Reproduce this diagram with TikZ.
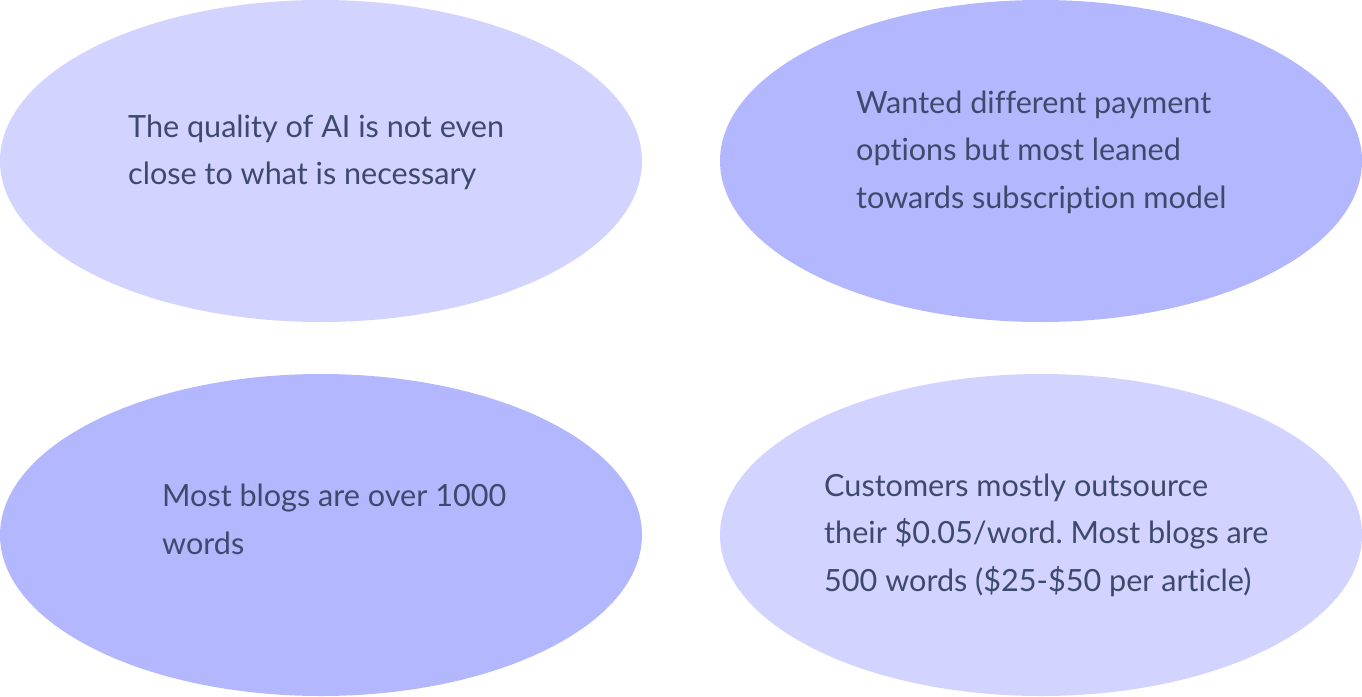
\documentclass[tikz,border=0pt]{standalone}
\usepackage{fontspec}
\setmainfont{Lato}[Ligatures=NoCommon]
\frenchspacing
\usetikzlibrary{shapes.geometric}
\definecolor{lightblob}{HTML}{D2D3FE}
\definecolor{darkblob}{HTML}{B3B7FE}
\definecolor{txt}{HTML}{3E4A6B}
\tikzset{
  blob/.style={ellipse, minimum width=642pt, minimum height=322pt, inner sep=0pt, draw=none},
  note/.style={anchor=base west, align=left, inner sep=0pt, text=txt, font=\fontsize{30.6}{47.5}\selectfont}
}
\begin{document}
\begin{tikzpicture}[x=1pt,y=-1pt]
\useasboundingbox (0,0) rectangle (1362,696);
\node[blob, fill=lightblob] (e1) at (321,161) {};
\node[blob, fill=darkblob] (e2) at (1041,161) {};
\node[blob, fill=darkblob] (e3) at (321,535) {};
\node[blob, fill=lightblob] (e4) at (1041,535) {};
% base anchor = baseline of last line
\node[note] (t1) at (128,184.5) {The quality of AI is not even\\close to what is necessary};
\node[note] (t2) at (856,208) {Wanted different payment\\options but most leaned\\towards subscription model};
\node[note] (t3) at (162,554) {Most blogs are over 1000\\words};
\node[note] (t4) at (824,591) {Customers mostly outsource\\their \$0.05/word. Most blogs are\\500 words (\$25-\$50 per article)};
\end{tikzpicture}
\end{document}
